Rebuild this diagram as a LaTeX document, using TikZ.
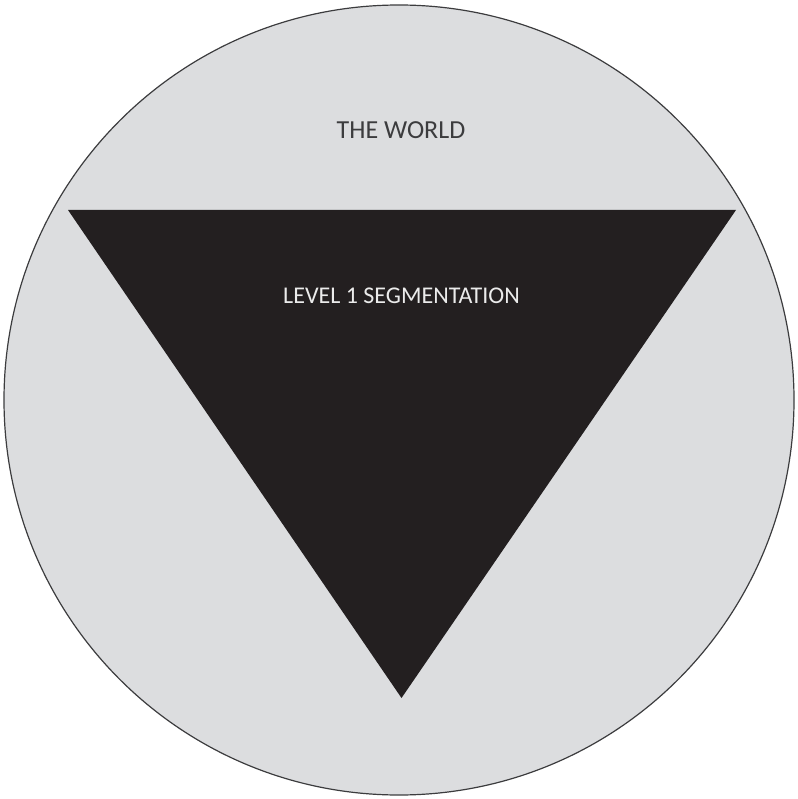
\documentclass[tikz,border=0pt]{standalone}
\usepackage{fontspec}
\setmainfont{Carlito}
\definecolor{worldcolor0001}{RGB}{220,221,223}
\definecolor{worldcolor0002}{RGB}{35,31,32}
\definecolor{worldcolor0003}{RGB}{60,60,62}
\definecolor{worldcolor0004}{RGB}{235,235,235}

\begin{document}
\begin{tikzpicture}[yscale=-1
,pstyle0/.style={color=worldcolor0003,fill=worldcolor0001,line width=1.2pt}
,pstyle1/.style={fill=worldcolor0002}
,tstyle0/.style={color=worldcolor0003,inner sep=0,font=\fontsize{26}{31}\selectfont}
,tstyle1/.style={color=worldcolor0004,inner sep=0,font=\fontsize{24}{29}\selectfont}
]
\useasboundingbox (0pt,0pt) rectangle (797pt,799pt);
\draw[pstyle0] (399pt,400pt) circle (395pt);
\fill[pstyle1] (68pt,210pt) -- (736pt,210pt) -- (401.5pt,698pt) -- cycle;
\node (world) at (401pt,130pt)[tstyle0]{THE WORLD};
\node (level1) at (401.5pt,296pt)[tstyle1]{LEVEL 1 SEGMENTATION};
\end{tikzpicture}
\end{document}
